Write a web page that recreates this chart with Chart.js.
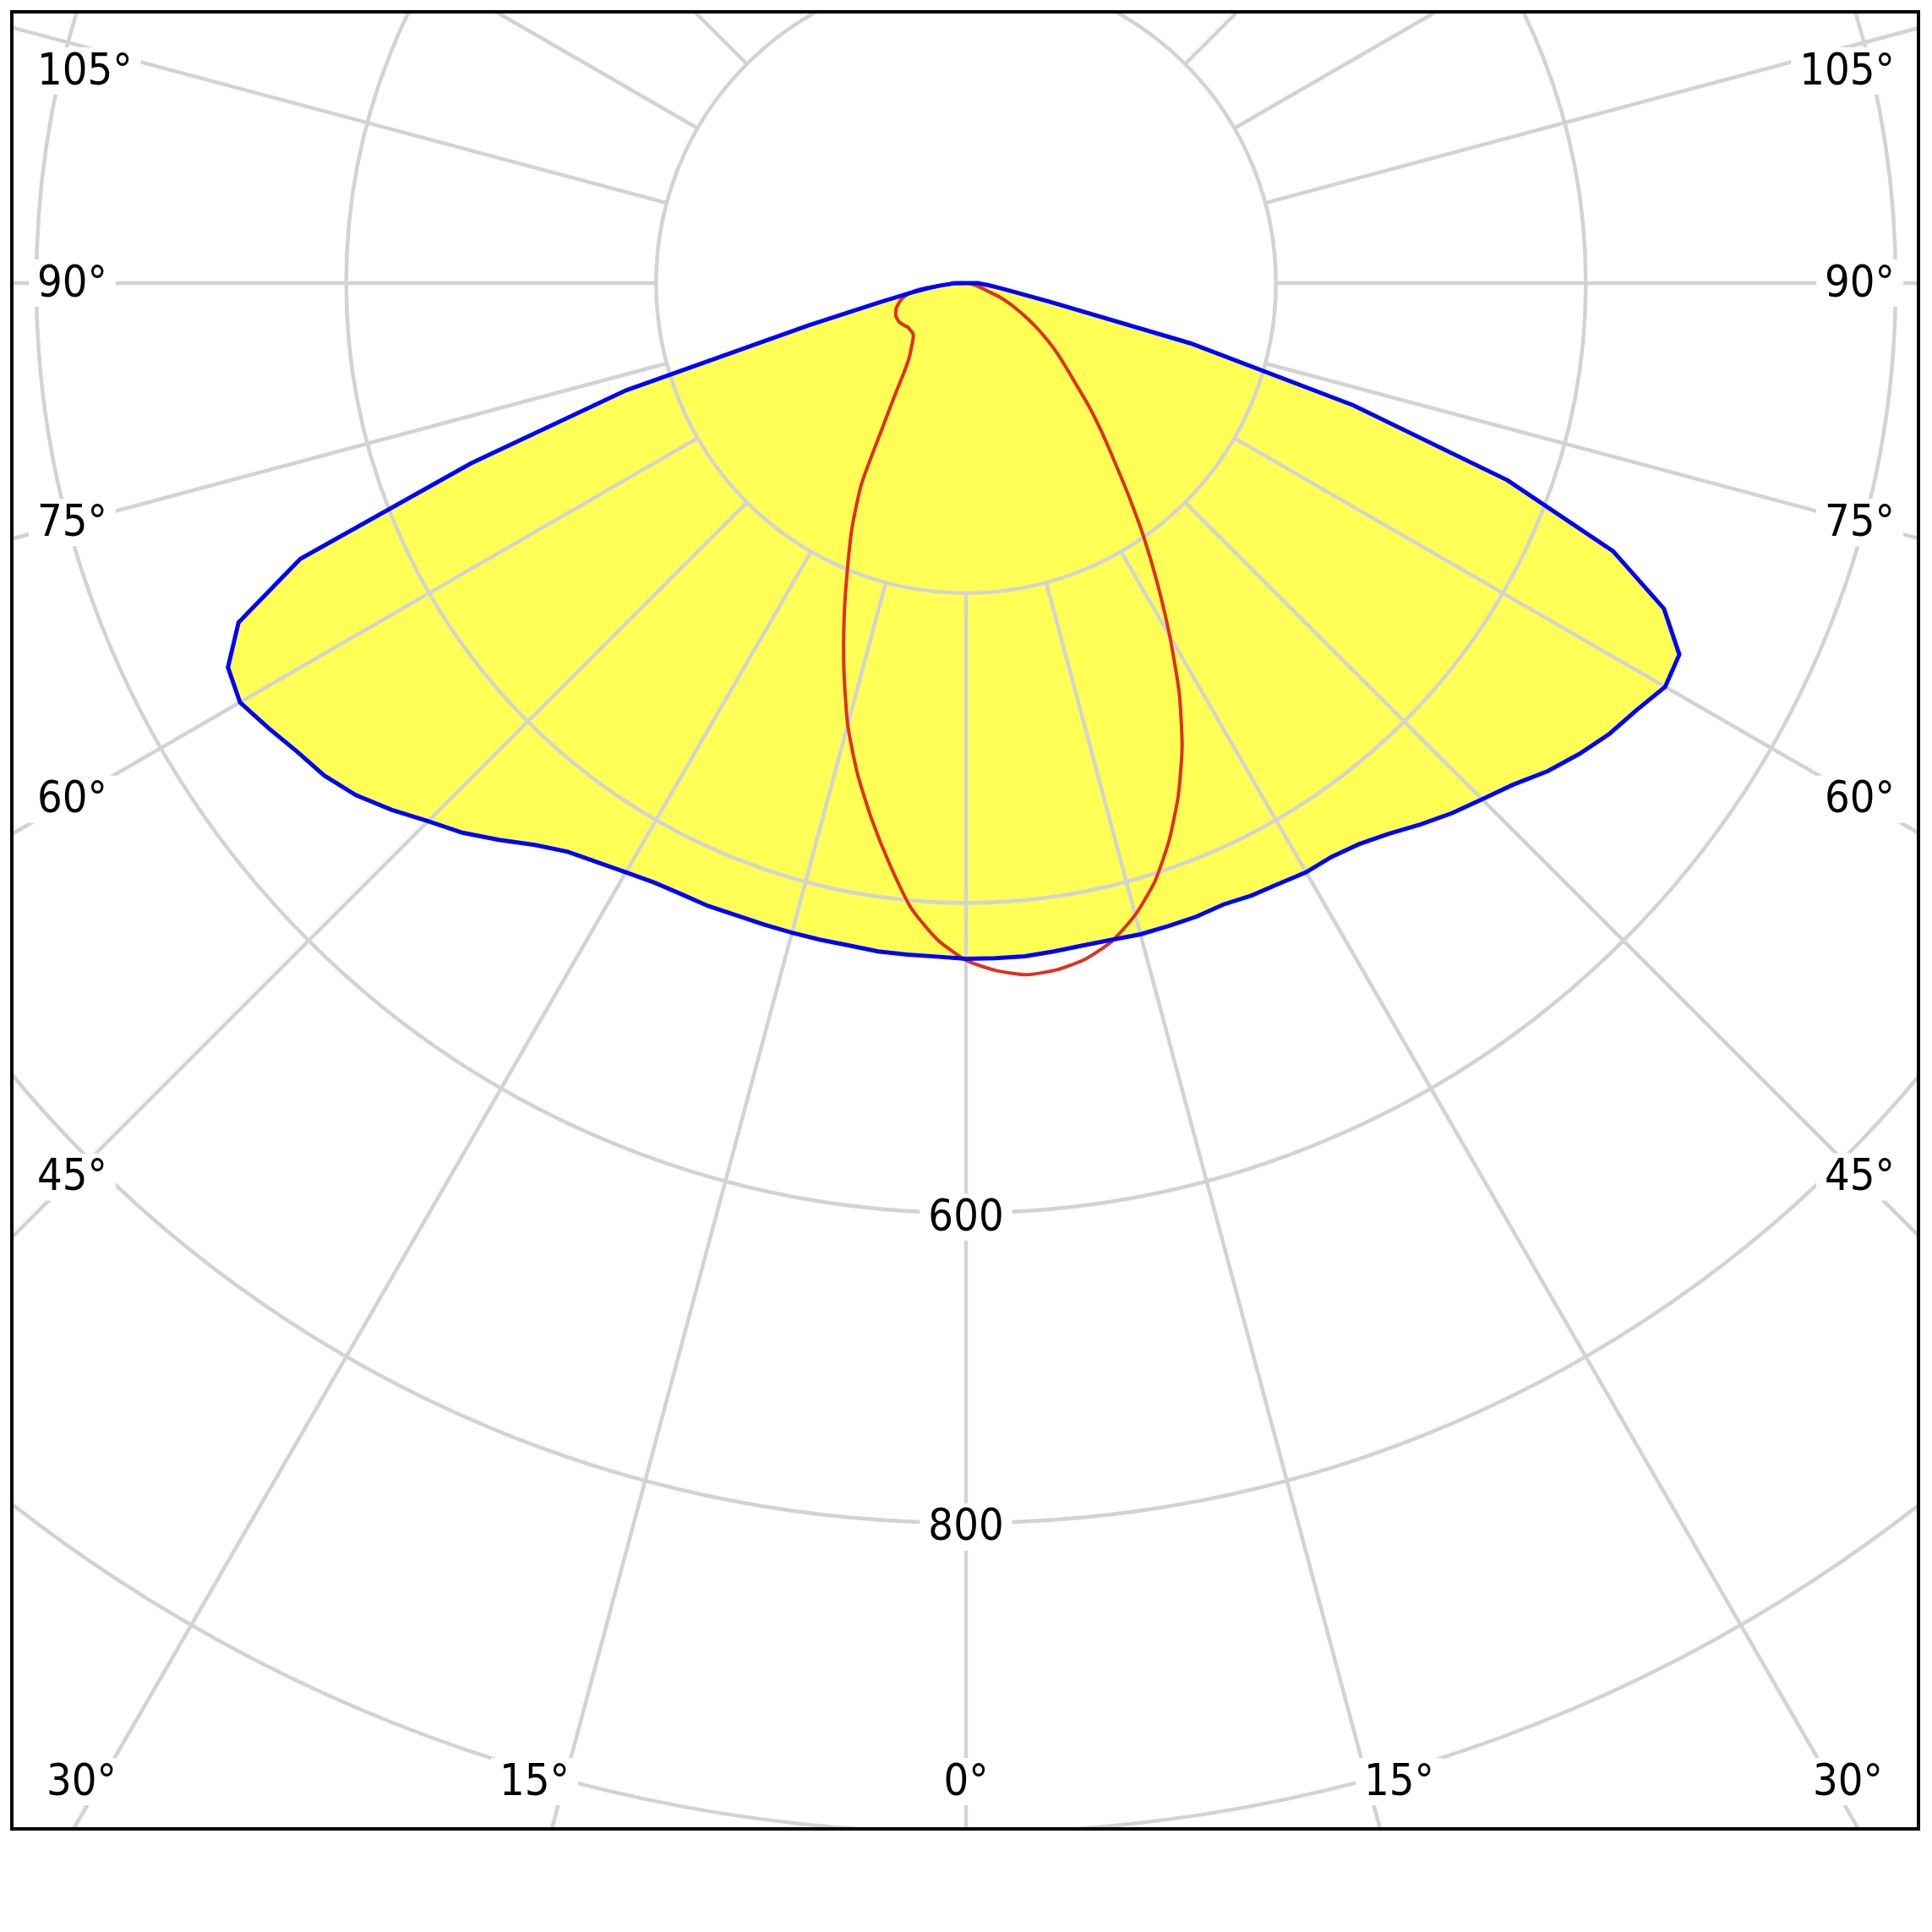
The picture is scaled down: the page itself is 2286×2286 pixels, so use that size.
<!DOCTYPE html>
<html>
<head>
<meta charset="utf-8">
<script src="https://cdn.jsdelivr.net/npm/chart.js@4.4.1/dist/chart.umd.min.js"></script>
<style>
  html, body { margin: 0; padding: 0; background: #fff; }
  #wrap { width: 2286px; height: 2286px; }
</style>
</head>
<body>
<div id="wrap"><canvas id="polarChart" width="2286" height="2286"></canvas></div>
<script>
// Gamma angles in degrees from nadir (0 = straight down)
const gammaAngles = [0, 2.5, 5, 7.5, 10, 12.5, 15, 17.5, 20, 22.5, 25, 27.5, 30, 32.5, 35, 37.5, 40, 42.5, 45,
  47.5, 50, 52.5, 55, 57.5, 60, 62.5, 65, 67.5, 70, 72.5, 75, 77.5, 80, 82.5, 85, 87.5, 90];

// Blue plane, right half (cd)
const c0Values = [436, 436, 436, 435, 434, 434, 435, 435, 435, 434, 436, 437, 439, 439, 442, 448, 456, 464, 471,
  479, 490, 499, 507, 513, 521, 519, 497, 452, 372, 262, 150, 55, 30, 20, 14, 10, 8];
// Blue plane, left half (cd)
const c180Values = [436, 435, 435, 435, 434, 434, 434, 434, 434, 435, 435, 436, 439, 443, 448, 457, 469, 481, 491,
  503, 514, 522, 527, 534, 541, 537, 518, 465, 340, 230, 105, 57, 37, 25, 16, 10, 8];
// Red plane, right half (cd)
const c90Values = [437, 444, 448, 447, 443, 435, 422, 405, 383, 358, 330, 298, 263, 230, 200, 172, 148, 129, 112,
  96, 84, 74, 64, 55, 46, 38, 31, 24, 15, 11, 8, 6, 4, 3, 2, 1, 0];
// Red plane, left half (cd)
const c270Values = [437, 424, 405, 378, 351, 324, 295, 262, 230, 200, 174, 146, 108, 85, 69, 60, 55, 51, 48,
  47, 47, 47, 48, 49, 50, 50, 50, 49, 48, 46, 44, 41, 37, 30, 15, 6, 0];

const ringValues = [200, 400, 600, 800, 1000];
const ringLabels = [600, 800];
const sideAngleLabels = [105, 90, 75, 60, 45];
const bottomAngleLabels = [30, 15, 0];

const FILL_COLOR = '#ffff55';
const GRID_COLOR = '#d3d3d3';
const LABEL_FONT = '52px "DejaVu Sans Condensed", "DejaVu Sans", sans-serif';

// polar (gamma, intensity) -> data coordinates, left half first, closed back to the start
function toPoints(leftVals, rightVals) {
  const pts = [];
  for (let i = gammaAngles.length - 1; i >= 0; i--) {
    const g = -gammaAngles[i] * Math.PI / 180;
    pts.push({ x: leftVals[i] * Math.sin(g), y: -leftVals[i] * Math.cos(g) });
  }
  for (let i = 1; i < gammaAngles.length; i++) {
    const g = gammaAngles[i] * Math.PI / 180;
    pts.push({ x: rightVals[i] * Math.sin(g), y: -rightVals[i] * Math.cos(g) });
  }
  pts.push({ x: pts[0].x, y: pts[0].y });
  return pts;
}

function drawBoxedText(ctx, text, x, y, align) {
  ctx.font = LABEL_FONT;
  const w = ctx.measureText(text).width;
  const left = align === 'left' ? x : align === 'right' ? x - w : x - w / 2;
  ctx.fillStyle = '#ffffff';
  ctx.fillRect(left - 10, y - 28, w + 20, 56);
  ctx.fillStyle = '#000000';
  ctx.textAlign = 'left';
  ctx.textBaseline = 'middle';
  ctx.fillText(text, left, y + 2);
}

const polarGrid = {
  id: 'polarGrid',
  beforeDatasetsDraw(chart) {
    const { ctx, chartArea, scales: { x, y } } = chart;
    const cx = x.getPixelForValue(0);
    const cy = y.getPixelForValue(0);
    const k = x.getPixelForValue(1) - cx;

    ctx.save();
    ctx.beginPath();
    ctx.rect(chartArea.left, chartArea.top, chartArea.right - chartArea.left, chartArea.bottom - chartArea.top);
    ctx.clip();

    // yellow area inside the blue curve
    const pts = chart.getDatasetMeta(0).data;
    ctx.beginPath();
    pts.forEach((p, i) => i ? ctx.lineTo(p.x, p.y) : ctx.moveTo(p.x, p.y));
    ctx.closePath();
    ctx.fillStyle = FILL_COLOR;
    ctx.fill();

    // rings
    ctx.strokeStyle = GRID_COLOR;
    ctx.lineWidth = 4.5;
    ringValues.forEach(v => {
      ctx.beginPath();
      ctx.arc(cx, cy, v * k, 0, Math.PI * 2);
      ctx.stroke();
    });

    // rays every 15 degrees, starting at the first ring
    const r0 = ringValues[0] * k;
    for (let a = 0; a < 360; a += 15) {
      const t = a * Math.PI / 180;
      ctx.beginPath();
      ctx.moveTo(cx + r0 * Math.sin(t), cy + r0 * Math.cos(t));
      ctx.lineTo(cx + 4000 * Math.sin(t), cy + 4000 * Math.cos(t));
      ctx.stroke();
    }

    // intensity labels on the 0 deg ray
    ringLabels.forEach(v => drawBoxedText(ctx, String(v), cx, cy + v * k + 5, 'center'));

    // angle labels on the left and right edges
    ctx.font = LABEL_FONT;
    sideAngleLabels.forEach(a => {
      const text = a + '°';
      const w = ctx.measureText(text).width;
      const t = a * Math.PI / 180;
      const lx = chartArea.left + 30;
      const X = cx - (lx + w / 2);
      const ly = Math.max(chartArea.top + 70, cy + X * Math.cos(t) / Math.sin(t));
      drawBoxedText(ctx, text, lx, ly, 'left');
      const rx = chartArea.right - 28;
      const X2 = (rx - w / 2) - cx;
      const ry = Math.max(chartArea.top + 70, cy + X2 * Math.cos(t) / Math.sin(t));
      drawBoxedText(ctx, text, rx, ry, 'right');
    });

    // angle labels along the bottom edge
    const by = chartArea.bottom - 56;
    bottomAngleLabels.forEach(a => {
      const text = a + '°';
      ctx.font = LABEL_FONT;
      const w = ctx.measureText(text).width;
      if (a === 0) {
        drawBoxedText(ctx, text, cx, by, 'center');
        return;
      }
      const off = (by - cy) * Math.tan(a * Math.PI / 180);
      const leftEdge = Math.max(chartArea.left + 41, cx - off - w + 6);
      drawBoxedText(ctx, text, leftEdge, by, 'left');
      const rightEdge = Math.min(chartArea.right - 42, cx + off - 4 + w);
      drawBoxedText(ctx, text, rightEdge, by, 'right');
    });

    ctx.restore();
  },
  afterDraw(chart) {
    const { ctx, chartArea } = chart;
    ctx.save();
    ctx.strokeStyle = '#000000';
    ctx.lineWidth = 4;
    ctx.strokeRect(chartArea.left, chartArea.top, chartArea.right - chartArea.left, chartArea.bottom - chartArea.top);
    ctx.restore();
  }
};

const ctx = document.getElementById('polarChart');
new Chart(ctx, {
  type: 'scatter',
  data: {
    datasets: [{
      label: 'C0 - C180',
      data: toPoints(c180Values, c0Values),
      showLine: true,
      borderColor: '#0000ff',
      borderWidth: 5,
      pointRadius: 0,
      tension: 0
    }, {
      label: 'C90 - C270',
      data: toPoints(c270Values, c90Values),
      showLine: true,
      borderColor: '#e03020',
      borderWidth: 4,
      pointRadius: 0,
      tension: 0.2
    }]
  },
  options: {
    responsive: false,
    animation: false,
    devicePixelRatio: 1,
    layout: { padding: { left: 14, right: 16, top: 14, bottom: 122 } },
    plugins: {
      legend: { display: false },
      tooltip: { enabled: false }
    },
    scales: {
      x: { type: 'linear', min: -615.8, max: 614.7, display: false },
      y: { type: 'linear', min: -997.5, max: 175.1, display: false }
    }
  },
  plugins: [polarGrid]
});
</script>
</body>
</html>
